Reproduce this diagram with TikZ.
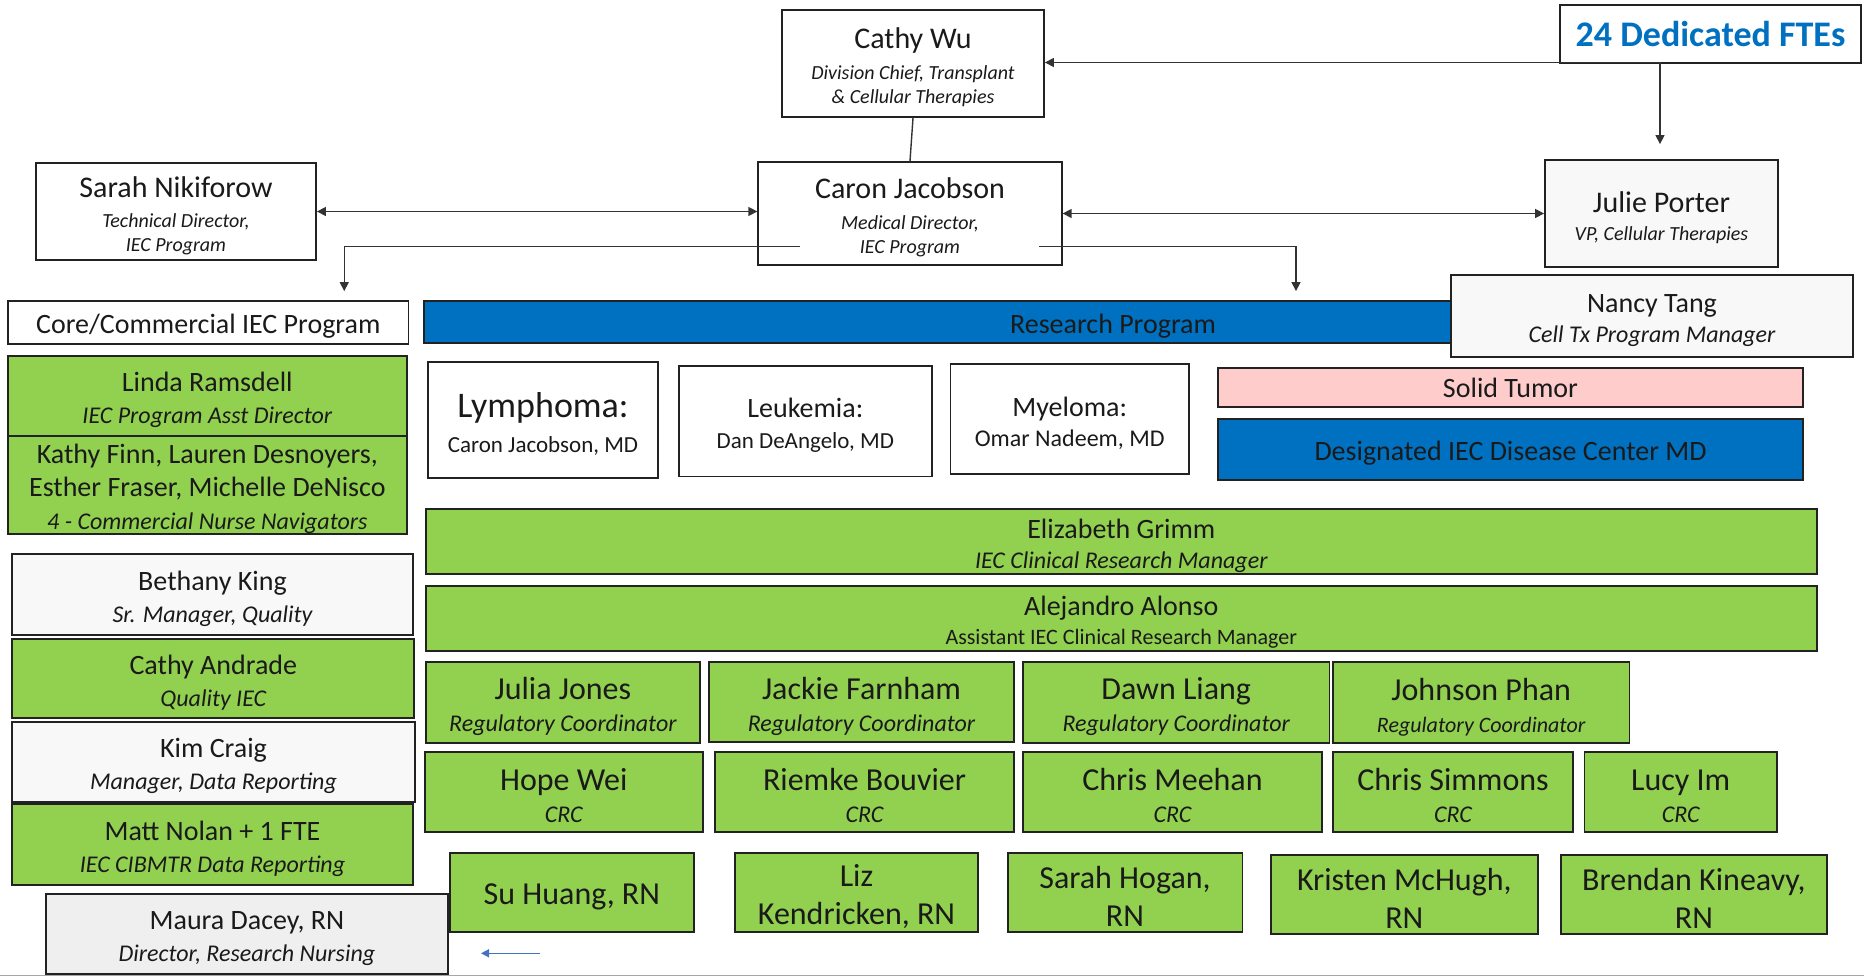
\documentclass[tikz,border=0pt]{standalone}
\usepackage{fontspec}
\setmainfont{Carlito}
\usepackage{tikz}
\usetikzlibrary{arrows.meta}
\usepackage{xcolor}

\definecolor{iecgreen}{HTML}{92D050}
\definecolor{iecblue}{HTML}{0070C0}
\definecolor{tumorpink}{HTML}{FFCCCC}
\definecolor{paper}{HTML}{F8F8F8}
\definecolor{paperdark}{HTML}{EFEFEF}
\definecolor{boxline}{HTML}{222222}
\definecolor{inktext}{HTML}{1A1A1A}
\definecolor{hintblue}{HTML}{4472C4}

% first (name) line: a little taller so the text sits a bit lower in its box
\newcommand{\who}[2][14]{{\fontsize{#1}{#1}\selectfont\rule{0pt}{\dimexpr0.72em+3.6pt\relax}#2}}
\newcommand{\job}[1]{{\itshape #1}}

\tikzset{
  box/.style={draw=boxline, line width=0.9pt, inner sep=0pt, align=center, text=inktext},
  plain/.style={box, fill=white},
  pale/.style={box, fill=paper},
  greenbox/.style={box, fill=iecgreen},
  bluebar/.style={box, fill=iecblue},
  pinkbar/.style={box, fill=tumorpink},
  lead/.style={font=\fontsize{10}{12}\selectfont},
  side/.style={font=\fontsize{12}{16}\selectfont},
  staff/.style={font=\fontsize{12}{16}\selectfont},
  nurse/.style={font=\fontsize{16}{19}\selectfont},
  link/.style={draw=black!80, line width=0.7pt},
  arrow/.style={link, -{Triangle[length=4.5pt,width=4.5pt]}},
  twoway/.style={link, {Triangle[length=4.5pt,width=4.5pt]}-{Triangle[length=4.5pt,width=4.5pt]}}
}

\begin{document}
\begin{tikzpicture}[x=0.5pt, y=-0.5pt]
  \useasboundingbox (0,0) rectangle (1864,977);

  % page rule at the bottom
  \draw[gray!70, line width=0.8pt] (0,975.5) -- (1864,975.5);

  % Leadership
  \node[plain, lead, minimum width=131pt, minimum height=53.5pt] (wu) at (913,63.5)
    {\who[15]{Cathy Wu}\\[3.5pt]\job{Division Chief, Transplant}\\\job{\& Cellular Therapies}};
  \node[plain, minimum width=150.5pt, minimum height=29pt, text=iecblue,
        font=\bfseries\fontsize{18}{20}\selectfont] (ftes) at (1710.5,34) {24 Dedicated FTEs};
  \node[plain, lead, minimum width=140pt, minimum height=48.5pt] (nikiforow) at (176,211.5)
    {\who[15]{Sarah Nikiforow}\\[3pt]\job{Technical Director,}\\\job{IEC Program}};
  \node[plain, lead, minimum width=151.75pt, minimum height=51.5pt] (jacobson) at (910,213.5)
    {\who[15]{Caron Jacobson}\\[3.5pt]\job{Medical Director,}\\\job{IEC Program}};
  \node[pale, lead, minimum width=116.5pt, minimum height=53.5pt] (porter) at (1661.5,213.5)
    {\who[15]{Julie Porter}\\[2pt]\job{VP, Cellular Therapies}};

  % Program headers
  \node[bluebar, minimum width=689pt, minimum height=21pt, font=\fontsize{14}{16}\selectfont] (research) at (1113,322) {\who{Research Program}};
  \node[pale, minimum width=201pt, minimum height=41pt, font=\fontsize{12}{15}\selectfont] (tang) at (1652,316)
    {\who{Nancy Tang}\\\job{Cell Tx Program Manager}};
  \node[plain, minimum width=200.25pt, minimum height=21.5pt, font=\fontsize{14}{16}\selectfont] (core) at (208.25,322.5) {\who{Core/Commercial IEC Program}};

  % Core/Commercial column
  \node[greenbox, side, minimum width=199.3pt, minimum height=40.3pt] (ramsdell) at (207.3,396.3)
    {\who{Linda Ramsdell}\\\job{IEC Program Asst Director}};
  \node[greenbox, font=\fontsize{12}{16.5}\selectfont, minimum width=199.3pt, minimum height=48.3pt] (navigators) at (207.3,485)
    {\who{Kathy Finn, Lauren Desnoyers,}\\{\fontsize{14}{14}\selectfont Esther Fraser, Michelle DeNisco}\\\job{4 - Commercial Nurse Navigators}};
  \node[pale, side, minimum width=200.2pt, minimum height=40.5pt] (king) at (212.5,594.8)
    {\who{Bethany King}\\\job{Sr. Manager, Quality}};
  \node[greenbox, side, minimum width=201pt, minimum height=39.2pt] (andrade) at (213.3,678.5)
    {\who{Cathy Andrade}\\\job{Quality IEC}};
  \node[pale, side, minimum width=201.2pt, minimum height=40.3pt] (craig) at (213.5,762)
    {\who{Kim Craig}\\\job{Manager, Data Reporting}};
  \node[greenbox, side, minimum width=200.2pt, minimum height=40.3pt] (nolan) at (212.5,844.7)
    {\who{Matt Nolan + 1 FTE}\\\job{IEC CIBMTR Data Reporting}};
  \node[box, fill=paperdark, side, minimum width=200.8pt, minimum height=40pt] (dacey) at (246.9,934.3)
    {\who{Maura Dacey, RN}\\\job{Director, Research Nursing}};

  % Disease centers
  \node[plain, font=\fontsize{11.5}{17.5}\selectfont, minimum width=115.3pt, minimum height=58pt] (lymphoma) at (543,420.3)
    {\who[18]{Lymphoma:}\\Caron Jacobson, MD};
  \node[plain, font=\fontsize{11.5}{15.5}\selectfont, minimum width=126.3pt, minimum height=55.3pt] (leukemia) at (805.3,421.3)
    {\who{Leukemia:}\\Dan DeAngelo, MD};
  \node[plain, font=\fontsize{12}{15.3}\selectfont, minimum width=119.2pt, minimum height=55.2pt] (myeloma) at (1069.7,419.2)
    {\who{Myeloma:}\\Omar Nadeem, MD};
  \node[pinkbar, font=\fontsize{14}{16}\selectfont, minimum width=292.5pt, minimum height=19.5pt] (solid) at (1510.5,387.8) {Solid Tumor};
  \node[bluebar, font=\fontsize{14}{16}\selectfont, minimum width=292.5pt, minimum height=30.5pt] (designated) at (1510.5,449.5) {\who{Designated IEC Disease Center MD}};

  % Research management
  \node[greenbox, font=\fontsize{12}{15}\selectfont, minimum width=695.3pt, minimum height=32.5pt] (grimm) at (1121.3,541.8)
    {\who{Elizabeth Grimm}\\\job{IEC Clinical Research Manager}};
  \node[greenbox, font=\fontsize{11}{14.5}\selectfont, minimum width=695.3pt, minimum height=32.5pt] (alonso) at (1121.3,618.5)
    {\who{Alejandro Alonso}\\Assistant IEC Clinical Research Manager};

  % Regulatory coordinators
  \node[greenbox, staff, minimum width=136.9pt, minimum height=40.5pt] (jones) at (562.9,702.8)
    {\who[16]{Julia Jones}\\\job{Regulatory Coordinator}};
  \node[greenbox, staff, minimum width=152.5pt, minimum height=39.7pt] (farnham) at (861.5,702)
    {\who[16]{Jackie Farnham}\\\job{Regulatory Coordinator}};
  \node[greenbox, staff, minimum width=153.2pt, minimum height=40.5pt] (liang) at (1176.2,702.8)
    {\who[16]{Dawn Liang}\\\job{Regulatory Coordinator}};
  \node[greenbox, font=\fontsize{11}{16}\selectfont, minimum width=148.2pt, minimum height=40.5pt] (phan) at (1481.2,702.8)
    {\who[16]{Johnson Phan}\\\job{Regulatory Coordinator}};

  % CRCs
  \node[greenbox, staff, minimum width=139.2pt, minimum height=40pt] (wei) at (563.8,791.7)
    {\who[16]{Hope Wei}\\\job{CRC}};
  \node[greenbox, staff, minimum width=149.5pt, minimum height=40pt] (bouvier) at (864.5,791.7)
    {\who[16]{Riemke Bouvier}\\\job{CRC}};
  \node[greenbox, staff, minimum width=149.5pt, minimum height=40pt] (meehan) at (1172.5,791.7)
    {\who[16]{Chris Meehan}\\\job{CRC}};
  \node[greenbox, staff, minimum width=120pt, minimum height=40pt] (simmons) at (1453,791.7)
    {\who[16]{Chris Simmons}\\\job{CRC}};
  \node[greenbox, staff, minimum width=96.3pt, minimum height=40pt] (im) at (1680.7,791.7)
    {\who[16]{Lucy Im}\\\job{CRC}};

  % Research nurses
  \node[greenbox, nurse, minimum width=122pt, minimum height=39.8pt] (huang) at (571.9,892.5) {\who[16]{Su Huang, RN}};
  \node[greenbox, nurse, minimum width=121.8pt, minimum height=39.8pt] (kendricken) at (856.5,892.5) {\who[16]{Liz}\\Kendricken, RN};
  \node[greenbox, nurse, minimum width=117.4pt, minimum height=39.8pt] (hogan) at (1125,892.5) {\who[16]{Sarah Hogan,}\\RN};
  \node[greenbox, nurse, minimum width=133.3pt, minimum height=39.5pt] (mchugh) at (1404.3,894.5) {\who[16]{Kristen McHugh,}\\RN};
  \node[greenbox, nurse, minimum width=132.9pt, minimum height=39.5pt] (kineavy) at (1693.9,894.5) {\who[16]{Brendan Kineavy,}\\RN};

  % Reporting lines
  \coordinate (fork) at (1660,62.5);
  \coordinate (splitleft) at (800,246.7);
  \coordinate (splitright) at (1039,246.7);
  \draw[arrow] (fork) -- (fork -| wu.east);
  \draw[arrow, shorten >=7.5pt] (fork) -- (fork |- porter.north);
  \draw[link] (wu.south) -- (jacobson.north);
  \draw[twoway] (nikiforow.east) -- (nikiforow.east -| jacobson.west);
  \draw[twoway] (jacobson.east) -- (jacobson.east -| porter.west);
  \draw[arrow, shorten >=4.5pt] (splitleft) -| ([xshift=68pt]core.north);
  \draw[arrow, shorten >=4.5pt] (splitright) -| ([xshift=91.5pt]research.north);

  % small pointer under the nurses
  \coordinate (hintfrom) at (540,953.3);
  \coordinate (hintto) at (481,953.3);
  \draw[hintblue, line width=0.8pt, -{Triangle[length=4pt,width=4pt]}] (hintfrom) -- (hintto);
\end{tikzpicture}
\end{document}
